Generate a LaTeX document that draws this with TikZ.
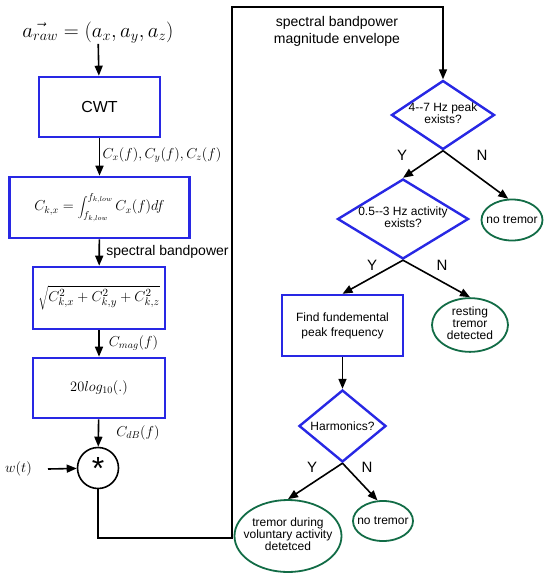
\documentclass[tikz,border=0pt]{standalone}
\usepackage{fontspec}
\setmainfont{Liberation Sans}
\usetikzlibrary{shapes.geometric,arrows.meta}
\definecolor{boxblue}{RGB}{40,40,228}
\definecolor{ellgreen}{RGB}{18,108,70}
\begin{document}
\begin{tikzpicture}[x=1pt,y=-1pt,
  blk/.style={draw=boxblue,line width=2.6pt,rectangle,inner sep=0pt},
  dia/.style={draw=boxblue,line width=2.4pt,diamond,inner sep=0pt,font=\fontsize{12}{14}\selectfont},
  ell/.style={draw=ellgreen,line width=1.8pt,ellipse,inner sep=0pt,font=\fontsize{12}{14}\selectfont},
  arr/.style={line width=1.6pt,-{Triangle[length=10pt,width=8pt]}},
  ln/.style={line width=1.6pt},
  mlab/.style={inner sep=0pt,font=\fontsize{14}{16}\selectfont},
  yn/.style={inner sep=0pt,font=\fontsize{15}{17}\selectfont}
]
\useasboundingbox (0,0) rectangle (550,579);

% left column
\node[inner sep=0pt,font=\fontsize{20.5}{22}\selectfont] (ain) at (98,33) {$\vec{a_{raw}}=(a_x,a_y,a_z)$};
\node[blk,minimum width=121pt,minimum height=60pt,font=\fontsize{16}{18}\selectfont] (cwt) at (99.5,107) {CWT};
\node[blk,minimum width=180pt,minimum height=61pt,font=\fontsize{14}{16}\selectfont] (integ) at (99.5,207.5) {$\displaystyle C_{k,x}=\int_{f_{k,low}}^{f_{k,low}} C_x(f)df$};
\node[blk,minimum width=132pt,minimum height=62pt,font=\fontsize{15.5}{17}\selectfont] (sqrtb) at (99,298) {$\sqrt{C_{k,x}^2+C_{k,y}^2+C_{k,z}^2}$};
\node[blk,minimum width=132pt,minimum height=60pt,font=\fontsize{14}{16}\selectfont] (logb) at (99,388) {$20log_{10}(.)$};
\node[draw,circle,line width=1.6pt,minimum size=41pt,inner sep=0pt,font=\fontsize{32}{32}\selectfont] (star) at (98,468) {*};
\node[mlab] (wt) at (18.5,469) {$w(t)$};
\coordinate (wsrc) at (48,469);

\node[mlab] (lcxyz) at (162,155) {$C_x(f),C_y(f),C_z(f)$};
\node[inner sep=0pt,font=\fontsize{14}{16}\selectfont] (lsbp) at (167.5,252) {spectral bandpower};
\node[mlab] (lcmag) at (133.5,343) {$C_{mag}(f)$};
\node[mlab] (lcdb) at (138,433) {$C_{dB}(f)$};

\draw[arr] (ain) -- (cwt);
\draw[arr] (cwt) -- (integ);
\draw[arr] (integ) -- (sqrtb);
\draw[arr] (sqrtb) -- (logb);
\draw[arr] (logb) -- (star);
\draw[arr] (wsrc) -- (star);

% return line
\coordinate (c1) at (232,538);
\coordinate (c2) at (232,7);
\node[inner sep=0pt,align=center,font=\fontsize{14}{17}\selectfont] (lenv) at (337,31) {spectral bandpower\\magnitude envelope};

% right column
\node[dia,minimum width=103pt,minimum height=69pt] (d1) at (443,115) {\makebox[0pt]{\begin{tabular}{@{}c@{}}4-{}-7 Hz peak\\[-2pt]exists?\end{tabular}}};
\node[ell,minimum width=61pt,minimum height=41pt] (e1) at (512,220) {\makebox[0pt]{no tremor}};
\node[dia,minimum width=131pt,minimum height=80pt] (d2) at (403,219) {\makebox[0pt]{\begin{tabular}{@{}c@{}}0.5-{}-3 Hz activity\\[-2pt]exists?\end{tabular}}};
\node[blk,line width=2.4pt,minimum width=121pt,minimum height=61pt,align=center,font=\fontsize{12}{15}\selectfont] (fbox) at (342.5,325.5) {Find fundemental\\peak frequency};
\node[ell,minimum width=76pt,minimum height=50pt] (e2) at (470,325) {\makebox[0pt]{\begin{tabular}{@{}c@{}}resting\\[-2pt]tremor\\[-2pt]detected\end{tabular}}};
\node[dia,minimum width=87pt,minimum height=72pt] (d3) at (342.5,426) {\makebox[0pt]{Harmonics?}};
\node[ell,minimum width=107pt,minimum height=72pt] (e3) at (288,536) {\makebox[0pt]{\begin{tabular}{@{}c@{}}tremor during\\[-2pt]voluntary activity\\[-2pt]detetced\end{tabular}}};
\node[ell,minimum width=60pt,minimum height=40pt] (e4) at (383,521) {\makebox[0pt]{no tremor}};

\draw[ln,-{Triangle[length=10pt,width=8pt]}] (star.south) |- (c1) -- (c2) -| (d1.north);

\draw[arr] (d1.south) -- (d2.north);
\draw[arr] (d1.south) -- (e1.100);
\draw[arr] (d2.south) -- (fbox.north);
\draw[arr] (d2.south) -- (e2.north);
\draw[arr] (fbox) -- (d3);
\draw[arr] (d3.south) -- (e3.north);
\draw[arr] (d3.south) -- (e4.105);

\node[yn] (y1) at (402,155) {Y};
\node[yn] (n1) at (482,155) {N};
\node[yn] (y2) at (372,265) {Y};
\node[yn] (n2) at (442,265) {N};
\node[yn] (y3) at (312,467) {Y};
\node[yn] (n3) at (367,467) {N};
\end{tikzpicture}
\end{document}
